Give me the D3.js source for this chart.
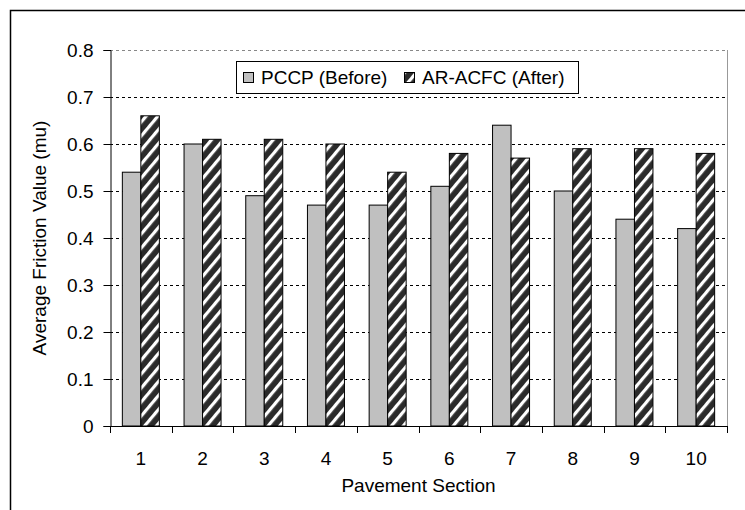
<!DOCTYPE html>
<html>
<head>
<meta charset="utf-8">
<script src="https://cdn.jsdelivr.net/npm/d3@7"></script>
<style>
  body { margin: 0; background: #fff; }
  text { font-family: "Liberation Sans", Arial, sans-serif; fill: #000; }
</style>
</head>
<body>
<div id="chart"></div>
<script>
const sections = ["1", "2", "3", "4", "5", "6", "7", "8", "9", "10"];
const before = [0.54, 0.60, 0.49, 0.47, 0.47, 0.51, 0.64, 0.50, 0.44, 0.42];
const after = [0.66, 0.61, 0.61, 0.60, 0.54, 0.58, 0.57, 0.59, 0.59, 0.58];
const seriesNames = ["PCCP (Before)", "AR-ACFC (After)"];
const yTicks = [0, 0.1, 0.2, 0.3, 0.4, 0.5, 0.6, 0.7, 0.8];

const W = 745, H = 510;
const margin = { top: 50, right: 18, bottom: 84, left: 110 },
  width = W - margin.left - margin.right,
  height = H - margin.top - margin.bottom;
const fontSize = "19px";

const svg = d3.select("#chart").append("svg")
  .attr("width", W)
  .attr("height", H);

// hatch pattern for the after bars
const defs = svg.append("defs");
const pat = defs.append("pattern")
  .attr("id", "hatch")
  .attr("patternUnits", "userSpaceOnUse")
  .attr("width", 9)
  .attr("height", 9)
  .attr("patternTransform", "rotate(-50)");
pat.append("rect").attr("width", 9).attr("height", 9).attr("fill", "#2b2b2b");
pat.append("rect").attr("x", 0).attr("y", 0).attr("width", 9).attr("height", 3.2).attr("fill", "#fff");

// outer chart frame (cropped at right and bottom)
svg.append("path")
  .attr("d", "M10.5," + H + " L10.5,10.5 L" + W + ",10.5")
  .attr("fill", "none")
  .attr("stroke", "#000")
  .attr("stroke-width", 1.5);

const g = svg.append("g")
  .attr("transform", "translate(" + margin.left + "," + margin.top + ")");

const x = d3.scaleBand()
  .domain(sections)
  .range([0, width]);

const y = d3.scaleLinear()
  .domain([0, 0.8])
  .range([height, 0]);

// gridlines
g.selectAll(".grid")
  .data(yTicks.filter(d => d > 0))
  .enter().append("line")
  .attr("class", "grid")
  .attr("x1", 0)
  .attr("x2", width)
  .attr("y1", d => Math.round(y(d)) + 0.5)
  .attr("y2", d => Math.round(y(d)) + 0.5)
  .attr("stroke", d => d === 0.8 ? "#888" : "#000")
  .attr("stroke-width", 1)
  .attr("stroke-dasharray", "3,3");

// plot area right border
g.append("line")
  .attr("x1", width + 0.5).attr("x2", width + 0.5)
  .attr("y1", 0).attr("y2", height)
  .attr("stroke", "#999");

// bars
const barW = 18.5;
const cats = g.selectAll(".cat")
  .data(sections)
  .enter().append("g")
  .attr("class", "cat")
  .attr("transform", d => "translate(" + (x(d) + x.bandwidth() / 2) + ",0)");

cats.append("rect")
  .attr("x", -barW)
  .attr("y", (d, i) => y(before[i]))
  .attr("width", barW)
  .attr("height", (d, i) => height - y(before[i]))
  .attr("fill", "#c0c0c0")
  .attr("stroke", "#000")
  .attr("stroke-width", 1);

cats.append("rect")
  .attr("x", 0)
  .attr("y", (d, i) => y(after[i]))
  .attr("width", barW)
  .attr("height", (d, i) => height - y(after[i]))
  .attr("fill", "url(#hatch)")
  .attr("stroke", "#000")
  .attr("stroke-width", 1);

// y axis
const yAxis = d3.axisLeft(y)
  .tickValues(yTicks)
  .tickSize(7)
  .tickPadding(10)
  .tickFormat(d => d === 0 ? "0" : d3.format(".1f")(d));
const yg = g.append("g").attr("transform", "translate(0.5,0)").call(yAxis);
yg.attr("font-family", null).attr("font-size", null);
yg.selectAll("text").style("font-size", fontSize);
yg.selectAll("line, path").attr("stroke", "#000");

// x axis with ticks between categories
g.append("line")
  .attr("x1", 0).attr("x2", width)
  .attr("y1", height + 0.5).attr("y2", height + 0.5)
  .attr("stroke", "#000");
g.selectAll(".xtick")
  .data(d3.range(sections.length + 1))
  .enter().append("line")
  .attr("x1", i => Math.round(i * x.step()) + 0.5)
  .attr("x2", i => Math.round(i * x.step()) + 0.5)
  .attr("y1", height)
  .attr("y2", height + 7)
  .attr("stroke", "#000");
g.selectAll(".xlabel")
  .data(sections)
  .enter().append("text")
  .attr("x", d => x(d) + x.bandwidth() / 2)
  .attr("y", height + 39)
  .attr("text-anchor", "middle")
  .style("font-size", fontSize)
  .text(d => d);

// axis titles
svg.append("text")
  .attr("x", margin.left + width / 2)
  .attr("y", 492)
  .attr("text-anchor", "middle")
  .style("font-size", fontSize)
  .text("Pavement Section");

svg.append("text")
  .attr("transform", "translate(46," + (margin.top + height / 2) + ") rotate(-90)")
  .attr("text-anchor", "middle")
  .style("font-size", fontSize)
  .text("Average Friction Value (mu)");

// legend
const lg = svg.append("g").attr("transform", "translate(236,61)");
lg.append("rect")
  .attr("x", 0.5).attr("y", 0.5)
  .attr("width", 342).attr("height", 32)
  .attr("fill", "#fff")
  .attr("stroke", "#000");
const legendX = [7, 168];
const legendFill = ["#c0c0c0", "url(#hatch)"];
seriesNames.forEach((name, i) => {
  lg.append("rect")
    .attr("x", legendX[i] + 0.5).attr("y", 11.5)
    .attr("width", 10).attr("height", 10)
    .attr("fill", legendFill[i])
    .attr("stroke", "#000");
  lg.append("text")
    .attr("x", legendX[i] + 18)
    .attr("y", 23)
    .style("font-size", fontSize)
    .text(name);
});
</script>
</body>
</html>
